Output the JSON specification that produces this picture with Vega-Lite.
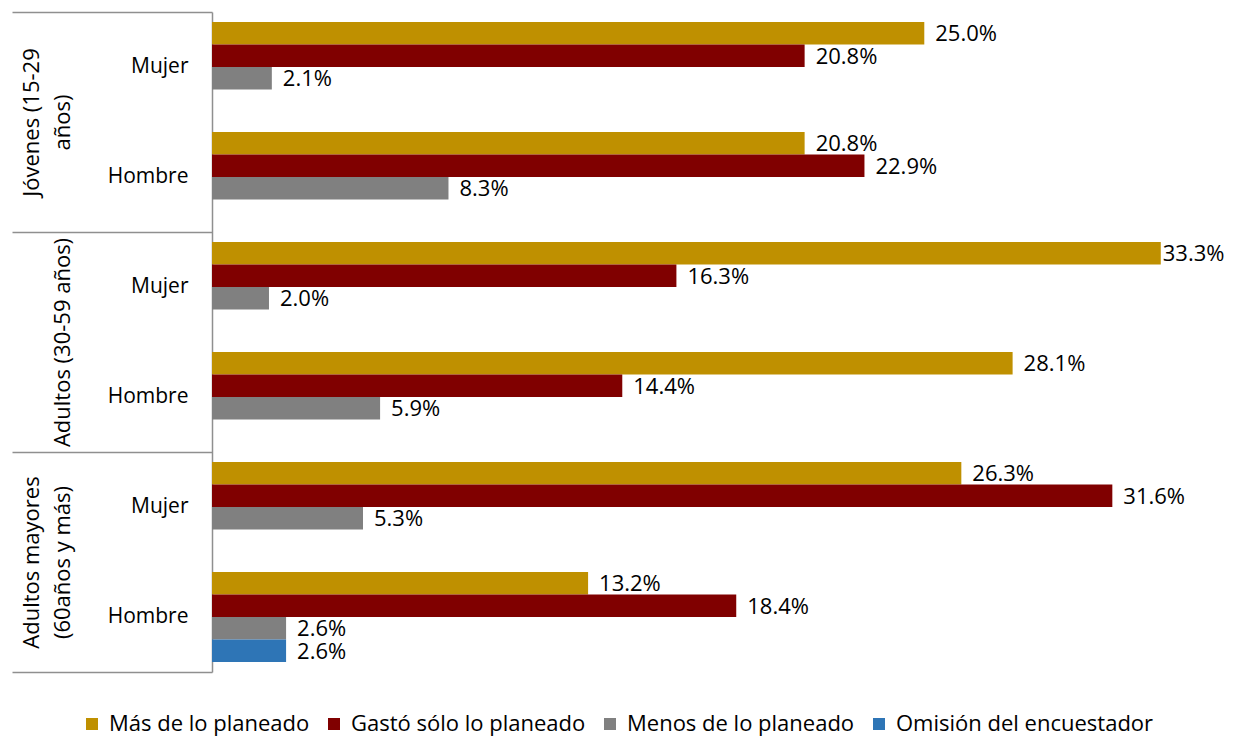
{
  "$schema": "https://vega.github.io/schema/vega-lite/v6.json",
  "width": 1020,
  "height": 660,
  "autosize": {"type": "none"},
  "padding": {"left": 212, "top": 12, "right": 2, "bottom": 65},
  "background": "white",
  "config": {"font": "Open Sans", "view": {"stroke": null}},
  "data": {
    "values": [
      {"group": "Jóvenes (15-29|años)", "cat": "J|Mujer", "series": "Más de lo planeado", "pct": 0.250},
      {"group": "Jóvenes (15-29|años)", "cat": "J|Mujer", "series": "Gastó sólo lo planeado", "pct": 0.208},
      {"group": "Jóvenes (15-29|años)", "cat": "J|Mujer", "series": "Menos de lo planeado", "pct": 0.021},
      {"group": "Jóvenes (15-29|años)", "cat": "J|Hombre", "series": "Más de lo planeado", "pct": 0.208},
      {"group": "Jóvenes (15-29|años)", "cat": "J|Hombre", "series": "Gastó sólo lo planeado", "pct": 0.229},
      {"group": "Jóvenes (15-29|años)", "cat": "J|Hombre", "series": "Menos de lo planeado", "pct": 0.083},
      {"group": "|Adultos (30-59 años)", "cat": "A|Mujer", "series": "Más de lo planeado", "pct": 0.333},
      {"group": "|Adultos (30-59 años)", "cat": "A|Mujer", "series": "Gastó sólo lo planeado", "pct": 0.163},
      {"group": "|Adultos (30-59 años)", "cat": "A|Mujer", "series": "Menos de lo planeado", "pct": 0.020},
      {"group": "|Adultos (30-59 años)", "cat": "A|Hombre", "series": "Más de lo planeado", "pct": 0.281},
      {"group": "|Adultos (30-59 años)", "cat": "A|Hombre", "series": "Gastó sólo lo planeado", "pct": 0.144},
      {"group": "|Adultos (30-59 años)", "cat": "A|Hombre", "series": "Menos de lo planeado", "pct": 0.059},
      {"group": "Adultos mayores|(60años y más)", "cat": "M|Mujer", "series": "Más de lo planeado", "pct": 0.263},
      {"group": "Adultos mayores|(60años y más)", "cat": "M|Mujer", "series": "Gastó sólo lo planeado", "pct": 0.316},
      {"group": "Adultos mayores|(60años y más)", "cat": "M|Mujer", "series": "Menos de lo planeado", "pct": 0.053},
      {"group": "Adultos mayores|(60años y más)", "cat": "M|Hombre", "series": "Más de lo planeado", "pct": 0.132},
      {"group": "Adultos mayores|(60años y más)", "cat": "M|Hombre", "series": "Gastó sólo lo planeado", "pct": 0.184},
      {"group": "Adultos mayores|(60años y más)", "cat": "M|Hombre", "series": "Menos de lo planeado", "pct": 0.026},
      {"group": "Adultos mayores|(60años y más)", "cat": "M|Hombre", "series": "Omisión del encuestador", "pct": 0.026}
    ]
  },
  "layer": [
    {
      "mark": {"type": "bar", "opacity": 0},
      "encoding": {
        "y": {
          "field": "group", "type": "nominal", "sort": null,
          "scale": {"paddingInner": 0, "paddingOuter": 0},
          "axis": {
            "orient": "left", "title": null, "domain": false,
            "tickBand": "extent", "tickSize": 200, "tickColor": "#8f8f8f", "tickWidth": 1.5,
            "labelAngle": -90, "labelAlign": "center", "labelBaseline": "bottom",
            "labelPadding": -31, "labelFontSize": 22, "labelColor": "#000",
            "labelLineHeight": 31, "labelExpr": "split(datum.label, '|')", "labelLimit": 0
          }
        },
        "x": {"field": "pct", "type": "quantitative", "axis": null, "scale": {"domain": [0, 0.358], "nice": false}}
      }
    },
    {
      "encoding": {
        "y": {
          "field": "cat", "type": "nominal", "sort": null,
          "scale": {"paddingInner": 0, "paddingOuter": 0},
          "axis": {
            "orient": "left", "title": null, "ticks": false,
            "domain": true, "domainColor": "#8f8f8f", "domainWidth": 1.5,
            "labelPadding": 24, "labelFontSize": 21, "labelColor": "#000",
            "labelExpr": "split(datum.label, '|')[1]"
          }
        },
        "yOffset": {
          "field": "series", "type": "nominal",
          "scale": {"domain": ["Más de lo planeado", "Gastó sólo lo planeado", "Menos de lo planeado", "Omisión del encuestador"], "paddingInner": 0, "paddingOuter": 0.44}
        },
        "x": {"field": "pct", "type": "quantitative", "axis": null, "scale": {"domain": [0, 0.358], "nice": false}}
      },
      "layer": [
        {
          "mark": {"type": "bar"},
          "encoding": {
            "color": {
              "field": "series", "type": "nominal",
              "scale": {
                "domain": ["Más de lo planeado", "Gastó sólo lo planeado", "Menos de lo planeado", "Omisión del encuestador"],
                "range": ["#BF9000", "#800000", "#808080", "#2E75B6"]
              },
              "legend": {
                "orient": "none", "legendX": -131, "legendY": 701,
                "direction": "horizontal", "title": null,
                "symbolType": "square", "symbolSize": 144, "symbolStrokeWidth": 0,
                "labelFontSize": 22, "labelColor": "#000", "columnPadding": 13, "labelOffset": 6,
                "labelLimit": 0
              }
            }
          }
        },
        {
          "mark": {"type": "text", "align": "left", "baseline": "middle", "fontSize": 22, "dy": 1, "color": "#000", "dx": {"expr": "datum.pct > 0.33 ? 2 : 11"}},
          "encoding": {
            "text": {"field": "pct", "type": "quantitative", "format": ".1%"}
          }
        }
      ]
    }
  ],
  "resolve": {"scale": {"y": "independent"}, "axis": {"y": "independent"}}
}
